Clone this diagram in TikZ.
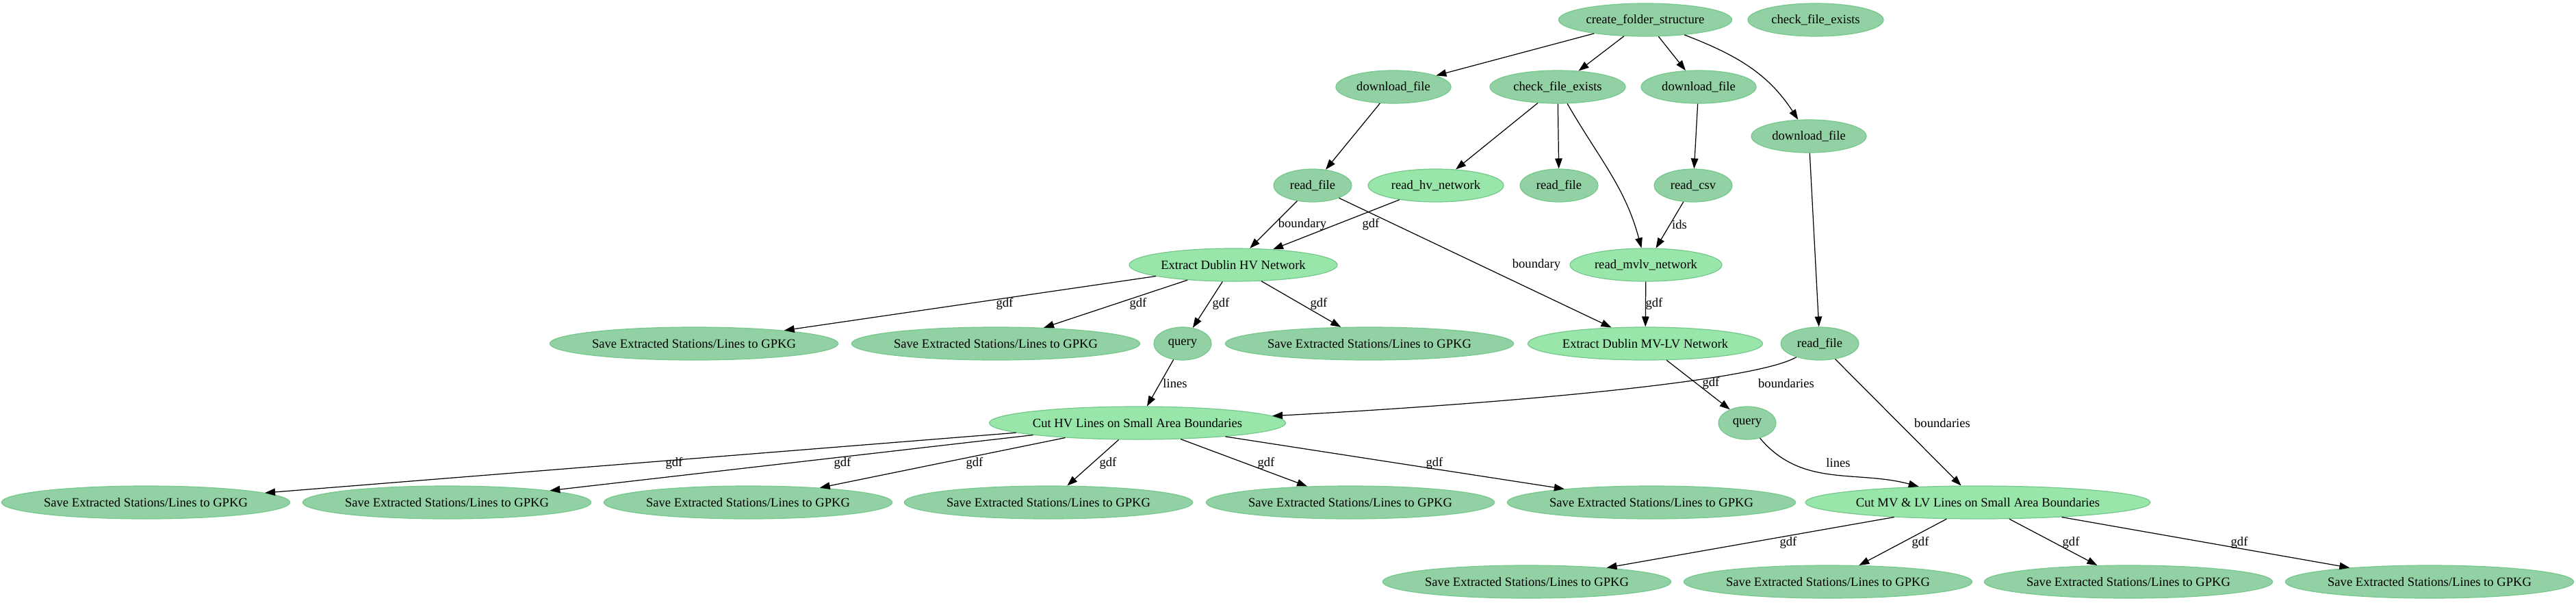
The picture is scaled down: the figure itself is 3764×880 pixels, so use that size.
\documentclass[tikz,border=0pt]{standalone}
\usepackage{fontspec}
\setmainfont{Liberation Serif}
\usetikzlibrary{arrows.meta,shapes.geometric}
\definecolor{stepfill}{RGB}{146,209,163}
\definecolor{corefill}{RGB}{152,230,170}
\definecolor{rimgreen}{RGB}{118,200,140}

\begin{document}
\begin{tikzpicture}[
x=0.02cm, y=-0.02cm,
task/.style={ellipse, draw=rimgreen, line width=0.7pt, fill=stepfill, inner sep=0pt, minimum height=0.96cm, minimum width=#1*0.02cm, font=\fontsize{10.6}{12.7}\selectfont},
core/.style={task=#1, fill=corefill},
lbl/.style={inner sep=0pt, font=\fontsize{10.6}{12.7}\selectfont},
arrow/.style={-{Triangle[length=8.5pt, width=6pt]}, line width=0.7pt}
]
\useasboundingbox (0,0) rectangle (3764,880);

\node[task=253] (cfs) at (2404,29) {create\_folder\_structure};
\node[task=198] (cfetop) at (2653,29) {check\_file\_exists};
\node[task=168] (dl1) at (2036,127) {download\_file};
\node[task=198] (cfe) at (2276,127) {check\_file\_exists};
\node[task=168] (dl2) at (2482,127) {download\_file};
\node[task=168] (dl3) at (2643,199) {download\_file};
\node[task=114] (rf1) at (1918,271) {read\_file};
\node[core=198] (rhv) at (2098,271) {read\_hv\_network};
\node[task=114] (rf2) at (2278,271) {read\_file};
\node[task=114] (rcsv) at (2474,271) {read\_csv};
\node[core=304] (exhv) at (1802,387) {Extract Dublin HV Network};
\node[core=222] (rmvlv) at (2405,387) {read\_mvlv\_network};
\node[task=415] (sv1) at (1014,502) {Save Extracted Stations/Lines to GPKG};
\node[task=415] (sv2) at (1455,502) {Save Extracted Stations/Lines to GPKG};
\node[task=84] (q1) at (1728,502) {query};
\node[task=415] (sv3) at (2001,502) {Save Extracted Stations/Lines to GPKG};
\node[core=343] (exmvlv) at (2404,502) {Extract Dublin MV-LV Network};
\node[task=114] (rf3) at (2659,502) {read\_file};
\node[core=425] (cuthv) at (1662,618) {Cut HV Lines on Small Area Boundaries};
\node[task=84] (q2) at (2553,618) {query};
\node[task=415] (hv1) at (213,734) {Save Extracted Stations/Lines to GPKG};
\node[task=415] (hv2) at (653,734) {Save Extracted Stations/Lines to GPKG};
\node[task=415] (hv3) at (1093,734) {Save Extracted Stations/Lines to GPKG};
\node[task=415] (hv4) at (1532,734) {Save Extracted Stations/Lines to GPKG};
\node[task=415] (hv5) at (1973,734) {Save Extracted Stations/Lines to GPKG};
\node[task=415] (hv6) at (2413,734) {Save Extracted Stations/Lines to GPKG};
\node[core=490] (cutmv) at (2890,734) {Cut MV \& LV Lines on Small Area Boundaries};
\node[task=415] (mv1) at (2231,850) {Save Extracted Stations/Lines to GPKG};
\node[task=415] (mv2) at (2671,850) {Save Extracted Stations/Lines to GPKG};
\node[task=415] (mv3) at (3110,850) {Save Extracted Stations/Lines to GPKG};
\node[task=415] (mv4) at (3550,850) {Save Extracted Stations/Lines to GPKG};

\draw[arrow] (cfs) -- (dl1);
\draw[arrow] (cfs) -- (cfe);
\draw[arrow] (cfs) -- (dl2);
\draw[arrow] (cfs) to[out=-21, in=123] (dl3);
\draw[arrow] (dl1) -- (rf1);
\draw[arrow] (cfe) -- (rhv);
\draw[arrow] (cfe) -- (rf2);
\draw[arrow] (cfe) to[out=-60, in=105] (rmvlv);
\draw[arrow] (dl2) -- (rcsv);
\draw[arrow] (dl3) -- (rf3);
\draw[arrow] (rf1) -- (exhv) node[lbl] at (1903,328) {boundary};
\draw[arrow] (rhv) -- (exhv) node[lbl] at (2003,328) {gdf};
\draw[arrow] (rf1) -- (exmvlv) node[lbl] at (2245,387) {boundary};
\draw[arrow] (rcsv) -- (rmvlv) node[lbl] at (2454,328) {ids};
\draw[arrow] (rmvlv) -- (exmvlv) node[lbl] at (2417,444) {gdf};
\draw[arrow] (exhv) -- (sv1) node[lbl] at (1468,444) {gdf};
\draw[arrow] (exhv) -- (sv2) node[lbl] at (1663,444) {gdf};
\draw[arrow] (exhv) -- (q1) node[lbl] at (1784,444) {gdf};
\draw[arrow] (exhv) -- (sv3) node[lbl] at (1927,444) {gdf};
\draw[arrow] (q1) -- (cuthv) node[lbl] at (1717,560) {lines};
\draw[arrow] (rf3) to[out=-150, in=3, out looseness=0.25, in looseness=1] (cuthv) node[lbl] at (2610,560) {boundaries};
\draw[arrow] (exmvlv) -- (q2) node[lbl] at (2500,560) {gdf};
\draw[arrow] (rf3) -- (cutmv) node[lbl] at (2838,618) {boundaries};
\draw[arrow] (q2) to[out=-50, in=165] (cutmv) node[lbl] at (2686,676) {lines};
\draw[arrow] (cuthv) -- (hv1) node[lbl] at (985,677) {gdf};
\draw[arrow] (cuthv) -- (hv2) node[lbl] at (1231,677) {gdf};
\draw[arrow] (cuthv) -- (hv3) node[lbl] at (1424,677) {gdf};
\draw[arrow] (cuthv) -- (hv4) node[lbl] at (1619,677) {gdf};
\draw[arrow] (cuthv) -- (hv5) node[lbl] at (1850,677) {gdf};
\draw[arrow] (cuthv) -- (hv6) node[lbl] at (2096,677) {gdf};
\draw[arrow] (cutmv) -- (mv1) node[lbl] at (2613,793) {gdf};
\draw[arrow] (cutmv) -- (mv2) node[lbl] at (2806,793) {gdf};
\draw[arrow] (cutmv) -- (mv3) node[lbl] at (3026,793) {gdf};
\draw[arrow] (cutmv) -- (mv4) node[lbl] at (3272,793) {gdf};
\end{tikzpicture}
\end{document}
